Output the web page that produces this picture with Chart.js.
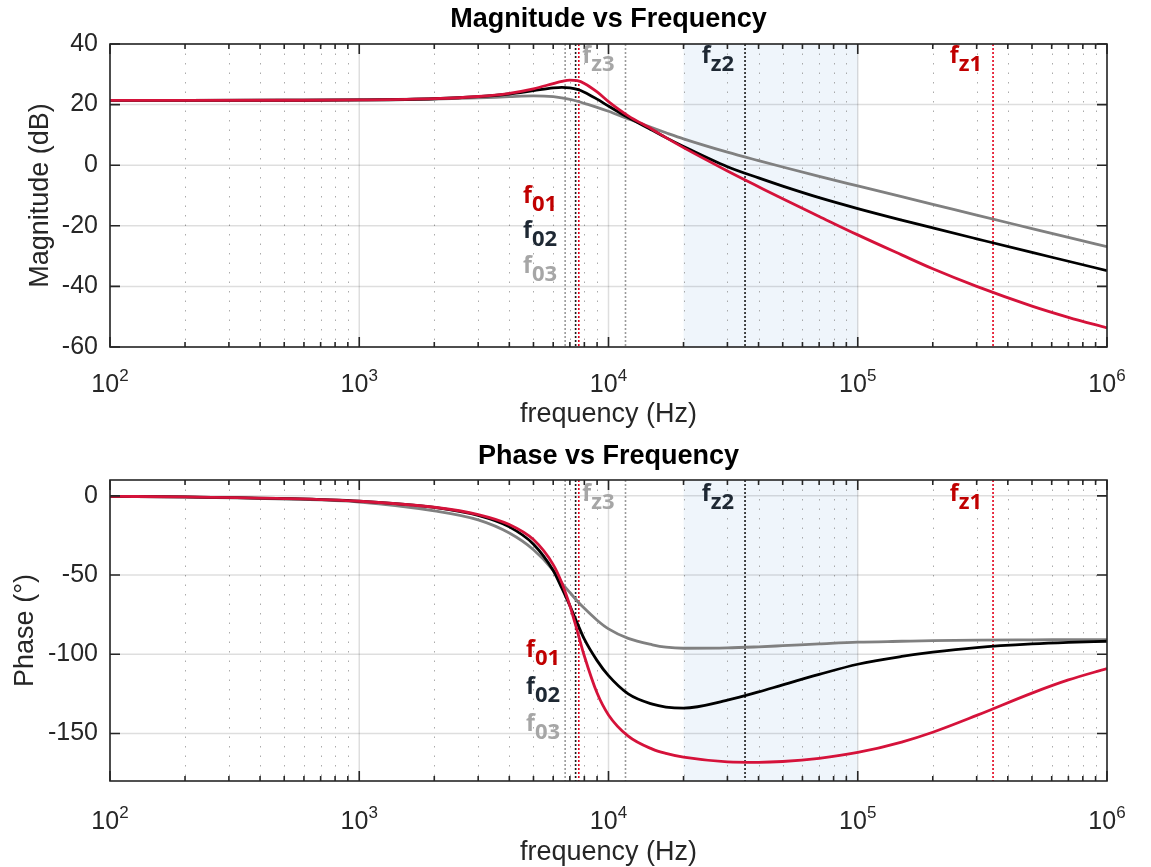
<!DOCTYPE html>
<html>
<head>
<meta charset="utf-8">
<script src="https://cdn.jsdelivr.net/npm/chart.js@4.4.1/dist/chart.umd.min.js"></script>
<style>
  html, body { margin: 0; padding: 0; background: #fff; overflow: hidden; }
  canvas { display: block; }
</style>
</head>
<body>
<canvas id="magChart" width="1151" height="433"></canvas>
<canvas id="phaseChart" width="1151" height="434"></canvas>
<script>
// frequency points (Hz)
const freq = [100, 200, 500, 1000, 2000, 3000, 4000, 5000, 6000, 6500, 7000, 7500, 8000, 9000, 10000,
  12000, 15000, 17000, 20000, 30000, 40000, 50000, 70000, 100000, 150000, 200000, 300000, 500000, 700000, 1000000];

// magnitude (dB)
const magRed = [21.4, 21.4, 21.43, 21.53, 21.95, 22.67, 23.74, 25.2, 26.95, 27.7, 28.1, 27.9, 27.0, 24.2, 21.0,
  16.3, 11.8, 9.1, 5.8, -1.9, -7.1, -11.1, -16.9, -23.0, -29.6, -34.2, -40.0, -46.5, -50.2, -53.7];
const magBlack = [21.4, 21.4, 21.43, 21.53, 21.93, 22.6, 23.5, 24.6, 25.5, 25.7, 25.5, 25.0, 24.1, 21.8, 19.5,
  15.7, 11.5, 9.1, 6.2, -0.5, -4.2, -6.9, -10.7, -14.3, -18.1, -20.7, -24.3, -28.8, -31.7, -34.8];
const magGray = [21.4, 21.4, 21.43, 21.52, 21.85, 22.2, 22.6, 22.85, 22.6, 22.2, 21.7, 21.1, 20.4, 19.1, 17.8,
  15.3, 12.3, 10.7, 8.7, 4.3, 1.5, -0.6, -3.7, -6.85, -10.4, -12.9, -16.5, -20.9, -23.8, -26.9];

// phase (deg)
const phaseRed = [-0.3, -0.7, -1.7, -3.4, -7.2, -11.8, -18.1, -27.6, -43.4, -55.0, -69.4, -85.5, -101.1, -124.5, -138.3,
  -151.7, -159.9, -162.6, -165.0, -167.9, -168.2, -167.7, -165.7, -162.0, -155.4, -149.2, -138.6, -124.5, -116.2, -109.0];
const phaseBlack = [-0.3, -0.7, -1.7, -3.4, -7.3, -12.4, -19.6, -30.5, -47.1, -58.3, -69.4, -80.5, -90.5, -104, -113.5,
  -125, -131.5, -133.3, -134.0, -129.0, -123.8, -119.3, -112.7, -106.3, -101.4, -98.7, -95.8, -93.5, -92.5, -91.8];
const phaseGray = [-0.4, -0.8, -2.0, -3.9, -9.5, -15.2, -23.5, -34, -47, -55, -61, -66.5, -71, -78.5, -84,
  -90, -94, -95.5, -96.2, -96.0, -95.3, -94.6, -93.5, -92.4, -91.8, -91.4, -91.1, -90.9, -90.8, -90.7];

// marker frequencies (Hz)
const f01 = 7600, f02 = 7380, f03 = 6700;
const fz1 = 349000, fz2 = 35300, fz3 = 11700;
const band = [20000, 100000];

// axis ticks
const decades = [100, 1000, 10000, 100000, 1000000];
const magTicks = [-60, -40, -20, 0, 20, 40];
const phaseTicks = [-150, -100, -50, 0];

const axisFont = '"Liberation Sans", Arial, Helvetica, sans-serif';
const tagFont = '"Open Sans", "DejaVu Sans", sans-serif';
const axisColor = '#262626';
const redCurve = '#d5123a', blackCurve = '#000000', grayCurve = '#808080';
const redTag = '#c00000', darkTag = '#1e2833', grayTag = '#a6a6a6';

function pts(ys) {
  return freq.map((f, i) => ({ x: f, y: ys[i] }));
}

function minorTicks() {
  const out = [];
  for (let i = 0; i < decades.length - 1; i++) {
    for (let m = 2; m <= 9; m++) out.push(decades[i] * m);
  }
  return out;
}

function drawTag(ctx, xRight, yBase, sub, color) {
  ctx.font = '700 23px ' + tagFont;
  const w1 = ctx.measureText('f').width;
  ctx.font = '700 22px ' + tagFont;
  const w2 = ctx.measureText(sub).width;
  const x0 = xRight - w1 - w2;
  ctx.fillStyle = color;
  ctx.textAlign = 'left';
  ctx.textBaseline = 'alphabetic';
  ctx.font = '700 23px ' + tagFont;
  ctx.fillText('f', x0, yBase);
  ctx.font = '700 22px ' + tagFont;
  ctx.fillText(sub, x0 + w1, yBase + 8);
}

function bodePlugin(o) {
  return {
    id: 'bode',
    beforeDatasetsDraw(chart) {
      const { ctx, chartArea: a, scales: { x, y } } = chart;
      ctx.save();
      // shaded band
      const b0 = x.getPixelForValue(band[0]), b1 = x.getPixelForValue(band[1]);
      ctx.fillStyle = 'rgba(214, 230, 245, 0.38)';
      ctx.fillRect(b0, a.top, b1 - b0, a.bottom - a.top);

      // minor x grid (dotted)
      ctx.strokeStyle = 'rgba(150,150,150,0.8)';
      ctx.lineWidth = 1;
      ctx.setLineDash([1.5, 8]);
      minorTicks().forEach(v => {
        const px = Math.round(x.getPixelForValue(v)) + 0.5;
        ctx.beginPath(); ctx.moveTo(px, a.top); ctx.lineTo(px, a.bottom); ctx.stroke();
      });
      ctx.setLineDash([]);

      // major grid
      ctx.strokeStyle = 'rgba(0,0,0,0.13)';
      ctx.lineWidth = 1.5;
      decades.forEach(v => {
        const px = x.getPixelForValue(v);
        ctx.beginPath(); ctx.moveTo(px, a.top); ctx.lineTo(px, a.bottom); ctx.stroke();
      });
      o.yTicks.forEach(v => {
        const py = y.getPixelForValue(v);
        ctx.beginPath(); ctx.moveTo(a.left, py); ctx.lineTo(a.right, py); ctx.stroke();
      });

      // marker lines
      const markers = [[f03, '#9a9a9a'], [fz3, '#9a9a9a'], [f02, '#1a1a1a'], [fz2, '#1a1a1a'], [f01, '#e3001b'], [fz1, '#e3001b']];
      ctx.lineWidth = 1.6;
      ctx.setLineDash([2, 2]);
      markers.forEach(([f, c]) => {
        const px = x.getPixelForValue(f);
        ctx.strokeStyle = c;
        ctx.beginPath(); ctx.moveTo(px, a.top); ctx.lineTo(px, a.bottom); ctx.stroke();
      });
      ctx.restore();
    },
    afterDraw(chart) {
      const { ctx, chartArea: a, scales: { x, y } } = chart;
      ctx.save();
      // box
      ctx.strokeStyle = axisColor;
      ctx.lineWidth = 1.6;
      ctx.strokeRect(a.left, a.top, a.right - a.left, a.bottom - a.top);

      // ticks
      ctx.beginPath();
      minorTicks().forEach(v => {
        const px = x.getPixelForValue(v);
        ctx.moveTo(px, a.bottom); ctx.lineTo(px, a.bottom - 5);
        ctx.moveTo(px, a.top); ctx.lineTo(px, a.top + 5);
      });
      decades.forEach(v => {
        const px = x.getPixelForValue(v);
        ctx.moveTo(px, a.bottom); ctx.lineTo(px, a.bottom - 10);
        ctx.moveTo(px, a.top); ctx.lineTo(px, a.top + 10);
      });
      o.yTicks.forEach(v => {
        const py = y.getPixelForValue(v);
        ctx.moveTo(a.left, py); ctx.lineTo(a.left + 10, py);
        ctx.moveTo(a.right, py); ctx.lineTo(a.right - 10, py);
      });
      ctx.stroke();

      // x tick labels 10^n
      ctx.fillStyle = axisColor;
      ctx.textBaseline = 'alphabetic';
      ctx.textAlign = 'left';
      decades.forEach(v => {
        const exp = String(Math.round(Math.log10(v)));
        ctx.font = '25px ' + axisFont;
        const wb = ctx.measureText('10').width;
        ctx.font = '17px ' + axisFont;
        const we = ctx.measureText(exp).width;
        const x0 = x.getPixelForValue(v) - (wb + we) / 2;
        const base = a.bottom + o.tickBase;
        ctx.font = '25px ' + axisFont;
        ctx.fillText('10', x0, base);
        ctx.font = '17px ' + axisFont;
        ctx.fillText(exp, x0 + wb, base - 11);
      });

      // plot title
      ctx.fillStyle = '#000';
      ctx.textAlign = 'center';
      ctx.textBaseline = 'middle';
      ctx.font = 'bold 27px ' + axisFont;
      ctx.fillText(o.title, (a.left + a.right) / 2, o.titleY);

      // frequency tags
      const t = o.tags;
      drawTag(ctx, x.getPixelForValue(fz3) - 11, a.top + t.fz, 'z3', grayTag);
      drawTag(ctx, x.getPixelForValue(fz2) - 11, a.top + t.fz, 'z2', darkTag);
      drawTag(ctx, x.getPixelForValue(fz1) - 11, a.top + t.fz, 'z1', redTag);
      const xr = x.getPixelForValue(f03) - t.f0x;
      drawTag(ctx, xr, a.top + t.f0[0], '01', redTag);
      drawTag(ctx, xr, a.top + t.f0[1], '02', darkTag);
      drawTag(ctx, xr, a.top + t.f0[2], '03', grayTag);
      ctx.restore();
    }
  };
}

function makeChart(id, o) {
  const line = (data, color) => ({
    data: pts(data), borderColor: color, borderWidth: 2.8, pointRadius: 0,
    cubicInterpolationMode: 'monotone', fill: false
  });
  return new Chart(document.getElementById(id), {
    type: 'line',
    data: { datasets: [line(o.red, redCurve), line(o.black, blackCurve), line(o.gray, grayCurve)] },
    options: {
      responsive: false,
      animation: false,
      layout: { padding: { top: o.top, right: 44, bottom: 0, left: 0 } },
      plugins: { legend: { display: false }, tooltip: { enabled: false } },
      scales: {
        x: {
          type: 'logarithmic', min: 100, max: 1000000,
          grid: { display: false, drawTicks: false },
          border: { display: false },
          ticks: { display: false },
          title: {
            display: true, text: 'frequency (Hz)', color: axisColor,
            font: { family: axisFont, size: 27, lineHeight: 1 },
            padding: { top: 0, bottom: o.xTitlePad }
          },
          afterFit(s) { s.height = o.xHeight; }
        },
        y: {
          min: o.yMin, max: o.yMax,
          afterBuildTicks(s) { s.ticks = o.yTicks.map(v => ({ value: v })); },
          grid: { display: false, drawTicks: false },
          border: { display: false },
          ticks: { color: axisColor, padding: 12, font: { family: axisFont, size: 25 } },
          title: {
            display: true, text: o.yLabel, color: axisColor,
            font: { family: axisFont, size: 27, lineHeight: 1.2 },
            padding: { top: o.yTitlePad, bottom: 0 }
          },
          afterFit(s) { s.width = 110; }
        }
      }
    },
    plugins: [bodePlugin(o)]
  });
}

makeChart('magChart', {
  red: magRed, black: magBlack, gray: magGray,
  yMin: -60, yMax: 40, yTicks: magTicks,
  yLabel: 'Magnitude (dB)', title: 'Magnitude vs Frequency',
  top: 44, xHeight: 86, xTitlePad: 5, yTitlePad: 24, titleY: 20, tickBase: 45,
  tags: { fz: 19, f0: [159, 194, 229], f0x: 8 }
});

makeChart('phaseChart', {
  red: phaseRed, black: phaseBlack, gray: phaseGray,
  yMin: -180, yMax: 10, yTicks: phaseTicks,
  yLabel: 'Phase (°)', title: 'Phase vs Frequency',
  top: 47, xHeight: 86, xTitlePad: 1, yTitlePad: 9, titleY: 24, tickBase: 48,
  tags: { fz: 21, f0: [177, 214, 251], f0x: 5 }
});
</script>
</body>
</html>
